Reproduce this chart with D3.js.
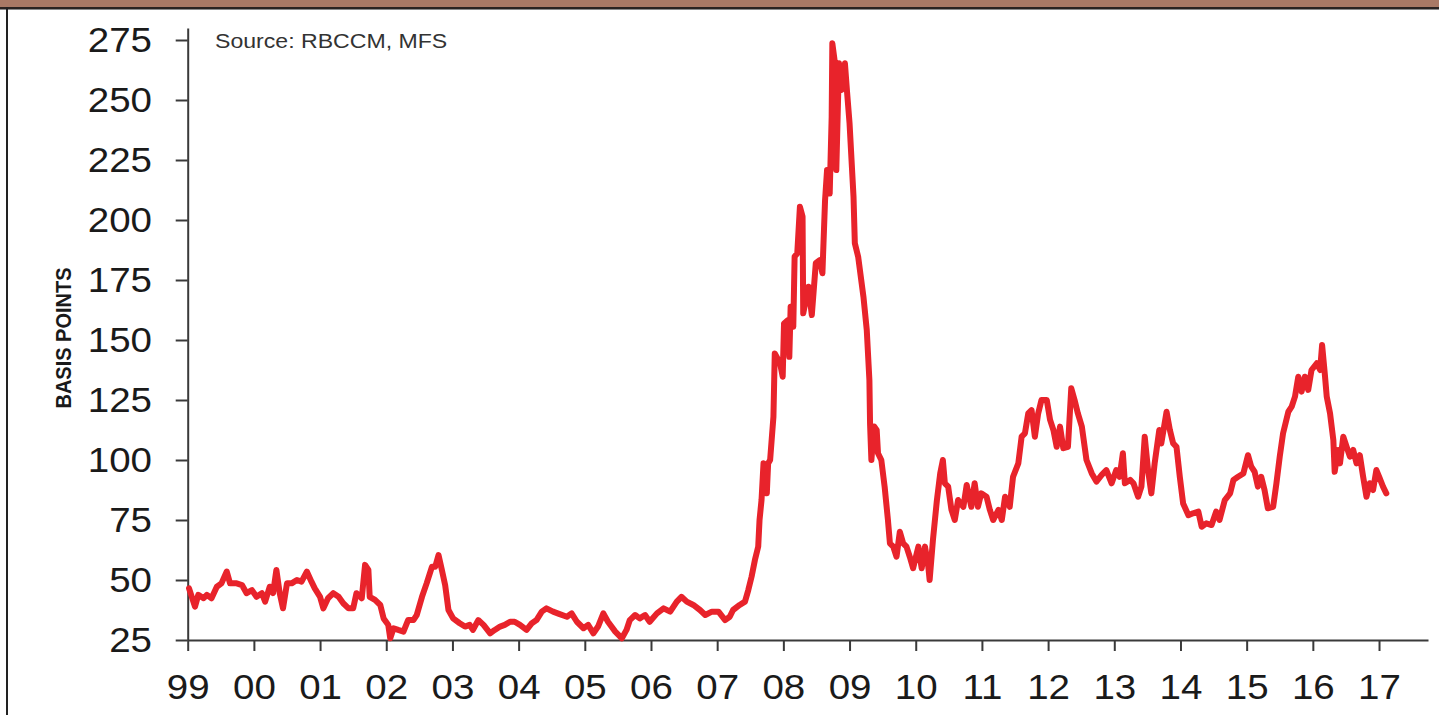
<!DOCTYPE html>
<html>
<head>
<meta charset="utf-8">
<script src="https://cdn.jsdelivr.net/npm/d3@7"></script>
<style>
  html, body { margin: 0; padding: 0; background: #fff; }
  svg { display: block; }
</style>
</head>
<body>
<div id="chart"></div>
<script>
// decimal year of each reading
const years = [
  1999.02, 1999.11, 1999.16, 1999.24, 1999.29, 1999.36, 1999.44, 1999.51, 1999.59, 1999.64,
  1999.74, 1999.82, 1999.89, 1999.97, 2000.04, 2000.12, 2000.17, 2000.24, 2000.29, 2000.34,
  2000.39, 2000.44, 2000.50, 2000.57, 2000.65, 2000.72, 2000.80, 2000.87, 2000.92, 2001.00,
  2001.05, 2001.12, 2001.20, 2001.28, 2001.35, 2001.43, 2001.50, 2001.55, 2001.63, 2001.68,
  2001.73, 2001.75, 2001.83, 2001.91, 2001.96, 2002.03, 2002.06, 2002.11, 2002.18, 2002.26,
  2002.33, 2002.41, 2002.46, 2002.54, 2002.61, 2002.69, 2002.74, 2002.79, 2002.84, 2002.89,
  2002.94, 2003.01, 2003.11, 2003.19, 2003.26, 2003.31, 2003.39, 2003.47, 2003.57, 2003.64,
  2003.72, 2003.79, 2003.87, 2003.94, 2004.02, 2004.12, 2004.20, 2004.27, 2004.35, 2004.42,
  2004.52, 2004.62, 2004.73, 2004.80, 2004.88, 2004.98, 2005.05, 2005.13, 2005.20, 2005.28,
  2005.35, 2005.46, 2005.56, 2005.63, 2005.68, 2005.76, 2005.83, 2005.91, 2005.98, 2006.09,
  2006.19, 2006.29, 2006.39, 2006.46, 2006.54, 2006.64, 2006.74, 2006.82, 2006.92, 2007.02,
  2007.12, 2007.19, 2007.24, 2007.34, 2007.42, 2007.47, 2007.52, 2007.57, 2007.62, 2007.64,
  2007.67, 2007.70, 2007.75, 2007.77, 2007.80, 2007.85, 2007.87, 2007.95, 2007.99, 2008.01,
  2008.07, 2008.09, 2008.11, 2008.15, 2008.17, 2008.21, 2008.25, 2008.29, 2008.30, 2008.38,
  2008.43, 2008.49, 2008.55, 2008.59, 2008.63, 2008.66, 2008.70, 2008.73, 2008.74, 2008.78,
  2008.80, 2008.84, 2008.88, 2008.93, 2008.96, 2009.00, 2009.06, 2009.08, 2009.13, 2009.21,
  2009.26, 2009.30, 2009.31, 2009.33, 2009.37, 2009.41, 2009.43, 2009.48, 2009.53, 2009.58,
  2009.61, 2009.66, 2009.71, 2009.76, 2009.81, 2009.86, 2009.91, 2009.96, 2010.04, 2010.09,
  2010.14, 2010.19, 2010.21, 2010.26, 2010.32, 2010.37, 2010.41, 2010.44, 2010.49, 2010.54,
  2010.59, 2010.64, 2010.72, 2010.77, 2010.84, 2010.89, 2010.94, 2010.99, 2011.07, 2011.12,
  2011.17, 2011.25, 2011.30, 2011.35, 2011.42, 2011.47, 2011.55, 2011.60, 2011.65, 2011.70,
  2011.75, 2011.80, 2011.85, 2011.90, 2011.98, 2012.03, 2012.08, 2012.13, 2012.18, 2012.23,
  2012.30, 2012.35, 2012.40, 2012.45, 2012.51, 2012.58, 2012.66, 2012.73, 2012.81, 2012.88,
  2012.96, 2013.03, 2013.08, 2013.13, 2013.16, 2013.24, 2013.29, 2013.36, 2013.41, 2013.46,
  2013.51, 2013.56, 2013.61, 2013.68, 2013.71, 2013.79, 2013.84, 2013.89, 2013.94, 2013.99,
  2014.04, 2014.12, 2014.19, 2014.27, 2014.32, 2014.39, 2014.47, 2014.54, 2014.59, 2014.67,
  2014.75, 2014.80, 2014.87, 2014.95, 2015.02, 2015.07, 2015.12, 2015.17, 2015.22, 2015.27,
  2015.32, 2015.40, 2015.45, 2015.50, 2015.55, 2015.63, 2015.68, 2015.73, 2015.78, 2015.83,
  2015.88, 2015.93, 2015.98, 2016.06, 2016.11, 2016.14, 2016.18, 2016.21, 2016.26, 2016.31,
  2016.33, 2016.38, 2016.41, 2016.46, 2016.51, 2016.56, 2016.61, 2016.66, 2016.71, 2016.76,
  2016.81, 2016.86, 2016.91, 2016.96, 2017.01, 2017.06, 2017.11
]

// spread in basis points
const spreads = [
  46.5, 38.9, 43.8, 42.4, 43.8, 42.4, 47.2, 48.6, 53.5, 48.6,
  48.6, 47.9, 44.5, 45.8, 43.0, 44.5, 41.0, 47.2, 44.5, 54.2,
  44.5, 38.2, 48.6, 48.6, 50.0, 49.3, 53.5, 49.3, 46.5, 43.0,
  38.2, 42.4, 44.5, 43.0, 40.3, 38.2, 38.2, 44.5, 42.4, 56.3,
  54.2, 43.0, 41.7, 39.6, 34.0, 31.3, 25.7, 29.9, 29.2, 28.5,
  33.3, 33.3, 35.4, 43.0, 48.6, 55.5, 55.5, 60.4, 54.2, 47.9,
  37.5, 34.0, 32.0, 30.6, 31.3, 29.2, 33.3, 31.3, 27.8, 29.2,
  30.6, 31.3, 32.6, 32.6, 31.3, 29.2, 32.0, 33.3, 36.8, 38.2,
  36.8, 35.8, 34.7, 36.1, 32.6, 29.9, 31.3, 27.8, 30.6, 36.1,
  32.6, 28.5, 25.7, 29.2, 33.3, 35.4, 34.0, 35.4, 32.6, 36.1,
  38.2, 36.8, 41.0, 43.0, 41.0, 39.6, 37.5, 35.4, 36.8, 36.8,
  33.3, 34.7, 37.5, 39.6, 41.0, 45.8, 51.4, 58.3, 63.9, 75.0,
  83.3, 98.6, 86.1, 98.6, 100.0, 118.0, 144.4, 140.3, 134.7, 156.9,
  158.3, 143.0, 163.9, 155.5, 184.7, 186.1, 205.5, 201.4, 161.1, 172.2,
  160.4, 182.0, 183.3, 177.8, 208.3, 220.8, 211.0, 243.0, 273.6, 265.3,
  220.8, 265.3, 254.2, 265.3, 254.2, 240.3, 209.7, 190.3, 184.7, 168.0,
  154.2, 133.3, 115.0, 100.0, 114.0, 112.5, 102.8, 100.0, 88.9, 75.0,
  65.3, 63.9, 59.7, 70.1, 65.3, 63.9, 59.7, 54.9, 63.9, 54.9,
  63.9, 55.5, 50.0, 66.7, 83.3, 94.4, 100.0, 90.3, 88.9, 79.2,
  75.0, 83.3, 80.5, 89.6, 80.5, 90.3, 80.5, 86.1, 84.7, 79.2,
  75.0, 79.2, 75.0, 84.7, 80.5, 93.0, 98.6, 109.7, 111.1, 119.4,
  120.8, 109.7, 119.4, 125.0, 125.0, 116.7, 112.5, 105.5, 113.9, 104.9,
  105.5, 129.9, 125.0, 119.4, 113.9, 100.0, 94.4, 91.0, 93.8, 95.8,
  90.3, 95.8, 93.0, 102.8, 90.3, 91.7, 90.3, 84.7, 88.9, 109.7,
  95.8, 86.1, 98.6, 112.5, 106.9, 120.1, 112.5, 106.9, 105.5, 93.0,
  81.9, 77.0, 77.8, 78.5, 72.2, 73.6, 72.9, 78.5, 75.0, 83.3,
  86.1, 91.7, 93.0, 94.4, 102.0, 97.2, 95.1, 88.9, 93.0, 87.5,
  79.9, 80.5, 90.3, 101.4, 111.1, 120.1, 122.2, 126.4, 134.7, 128.5,
  134.7, 129.2, 137.5, 140.3, 137.5, 147.9, 136.1, 126.4, 119.4, 108.3,
  95.1, 104.2, 98.6, 109.7, 105.5, 101.4, 104.2, 98.6, 102.0, 93.0,
  84.7, 90.3, 87.5, 95.8, 92.4, 88.9, 86.1
]

const yTicks = [25, 50, 75, 100, 125, 150, 175, 200, 225, 250, 275]
const xTickYears = [1999, 2000, 2001, 2002, 2003, 2004, 2005, 2006, 2007, 2008,
  2009, 2010, 2011, 2012, 2013, 2014, 2015, 2016, 2017]
const xTickLabels = ["99", "00", "01", "02", "03", "04", "05", "06", "07", "08",
  "09", "10", "11", "12", "13", "14", "15", "16", "17"]

const sourceNote = "Source: RBCCM, MFS"
const yTitle = "BASIS POINTS"

class SpreadChart {

  constructor(containerEl, props) {
    this.props = props
    const { width, height } = props

    this.svg = d3.select(containerEl)
      .append("svg")
      .attr("width", width)
      .attr("height", height)
      .style("font-family", "'Liberation Sans', Arial, sans-serif")

    this.x = d3.scaleLinear().domain([1999, 2017.74]).range([187.7, 1428])
    this.y = d3.scaleLinear().domain([25, 280]).range([640, 28])

    this.drawFrame()
    this.drawAxes()
    this.drawLine()
  }

  drawFrame() {
    const { svg, props: { width, height } } = this

    svg.append("rect")
      .attr("x", 0).attr("y", 0)
      .attr("width", width).attr("height", 7)
      .attr("fill", "#a97965")
    svg.append("rect")
      .attr("x", 0).attr("y", 7)
      .attr("width", width).attr("height", 2)
      .attr("fill", "#2a2321")
    svg.append("rect")
      .attr("x", 0).attr("y", 9)
      .attr("width", width).attr("height", 1)
      .attr("fill", "#8a8a8a")
    // left frame edge
    svg.append("rect")
      .attr("x", 6).attr("y", 7)
      .attr("width", 2).attr("height", height - 7)
      .attr("fill", "#222")
  }

  drawAxes() {
    const { svg, x, y } = this

    const yAxis = svg.append("g")
      .attr("transform", `translate(${x(1999)},0)`)
      .call(d3.axisLeft(y).tickValues(yTicks).tickSize(12).tickSizeOuter(0))

    yAxis.selectAll("text")
      .attr("x", -32.5)
      .attr("transform", "scale(1.1,1)")

    const xAxis = svg.append("g")
      .attr("transform", `translate(0,${y(25)})`)
      .call(d3.axisBottom(x).tickValues(xTickYears)
        .tickFormat((d, i) => xTickLabels[i])
        .tickSize(11).tickSizeOuter(0))

    xAxis.selectAll("text")
      .attr("y", 59)
      .attr("dy", 0)
      .attr("transform", "scale(1.1,1)")

    svg.selectAll(".tick text")
      .attr("font-size", 35)
      .attr("font-family", "'Liberation Sans', Arial, sans-serif")
      .attr("fill", "#1a1a1a")

    svg.selectAll(".domain, .tick line")
      .attr("stroke", "#3a3a3a")
      .attr("stroke-width", 2)

    svg.append("text")
      .attr("transform", "translate(215,48) scale(1.1,1)")
      .attr("font-size", 21)
      .attr("fill", "#333")
      .text(sourceNote)

    svg.append("text")
      .attr("transform", "translate(71,338) scale(1.1,1) rotate(-90)")
      .attr("text-anchor", "middle")
      .attr("font-size", 20)
      .attr("font-weight", "bold")
      .attr("fill", "#1a1a1a")
      .text(yTitle)
  }

  drawLine() {
    const { svg, x, y } = this

    const line = d3.line()
      .x(i => x(years[i]))
      .y(i => y(spreads[i]))

    svg.append("path")
      .datum(d3.range(years.length))
      .attr("d", line)
      .attr("fill", "none")
      .attr("stroke", "#e8232b")
      .attr("stroke-width", 6)
      .attr("stroke-linejoin", "round")
      .attr("stroke-linecap", "round")
  }
}

new SpreadChart(document.getElementById("chart"), { width: 1439, height: 715 })
</script>
</body>
</html>
